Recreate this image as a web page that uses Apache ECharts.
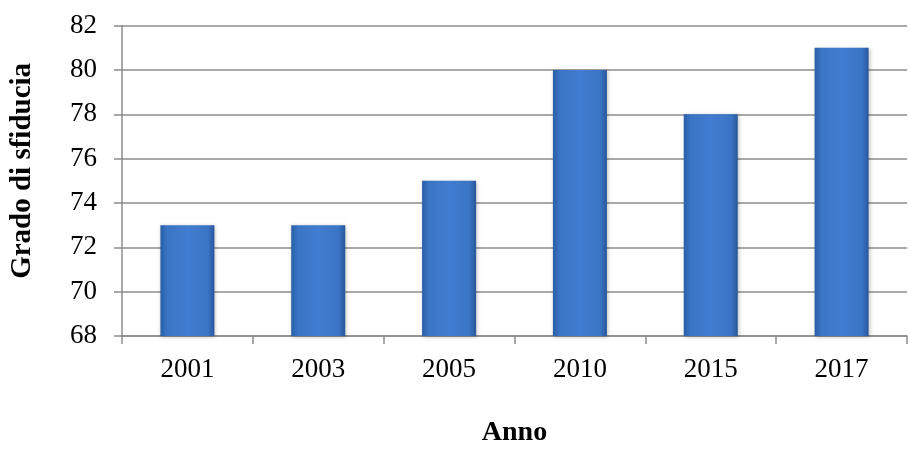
<!DOCTYPE html>
<html>
<head>
<meta charset="utf-8">
<script src="https://cdn.jsdelivr.net/npm/echarts@6/dist/echarts.min.js"></script>
<style>
html,body{margin:0;padding:0;background:#fff;}
#c{width:910px;height:452px;}
</style>
</head>
<body>
<div id="c"></div>
<script>
var categories = ['2001', '2003', '2005', '2010', '2015', '2017'];
var values = [73, 73, 75, 80, 78, 81];
var yTicks = [68, 70, 72, 74, 76, 78, 80, 82];
var xAxisName = 'Anno';
var yAxisName = 'Grado di sfiducia';

var chart = echarts.init(document.getElementById('c'), null, {renderer: 'canvas'});
var font = '"Liberation Serif", "Times New Roman", serif';
chart.setOption({
  animation: false,
  backgroundColor: '#ffffff',
  grid: {left: 120, right: 3, top: 25.7, bottom: 110, containLabel: false},
  xAxis: {
    type: 'category',
    data: categories,
    name: xAxisName,
    nameLocation: 'middle',
    nameGap: 83,
    nameTextStyle: {fontFamily: font, fontSize: 28, fontWeight: 'bold', color: '#000'},
    axisLine: {show: true, lineStyle: {color: '#8c8c8c', width: 1.5}},
    axisTick: {show: true, length: 8, alignWithLabel: false, lineStyle: {color: '#8c8c8c', width: 1.5}},
    axisLabel: {fontFamily: font, fontSize: 27, color: '#000', margin: 20},
    splitLine: {show: false}
  },
  yAxis: {
    type: 'value',
    min: yTicks[0],
    max: yTicks[yTicks.length - 1],
    interval: 2,
    name: yAxisName,
    nameLocation: 'middle',
    nameGap: 85,
    nameRotate: 90,
    nameTextStyle: {fontFamily: font, fontSize: 29, fontWeight: 'bold', color: '#000', padding: [0, 0, 0, 20]},
    axisLine: {show: true, lineStyle: {color: '#8c8c8c', width: 1.5}},
    axisTick: {show: true, length: 8, lineStyle: {color: '#8c8c8c', width: 1.5}},
    axisLabel: {fontFamily: font, fontSize: 27, color: '#000', margin: 25},
    splitLine: {show: true, lineStyle: {color: '#8c8c8c', width: 1.5}}
  },
  series: [{
    type: 'bar',
    data: values,
    barWidth: 54,
    itemStyle: {
      color: new echarts.graphic.LinearGradient(0, 0, 1, 0, [
        {offset: 0, color: '#2a5ea6'},
        {offset: 0.12, color: '#3a74c4'},
        {offset: 0.5, color: '#417dd0'},
        {offset: 0.88, color: '#3a74c4'},
        {offset: 1, color: '#28579b'}
      ]),
      shadowColor: 'rgba(0,0,0,0.25)',
      shadowBlur: 4,
      shadowOffsetX: 1,
      shadowOffsetY: 1
    }
  }]
});
</script>
</body>
</html>
